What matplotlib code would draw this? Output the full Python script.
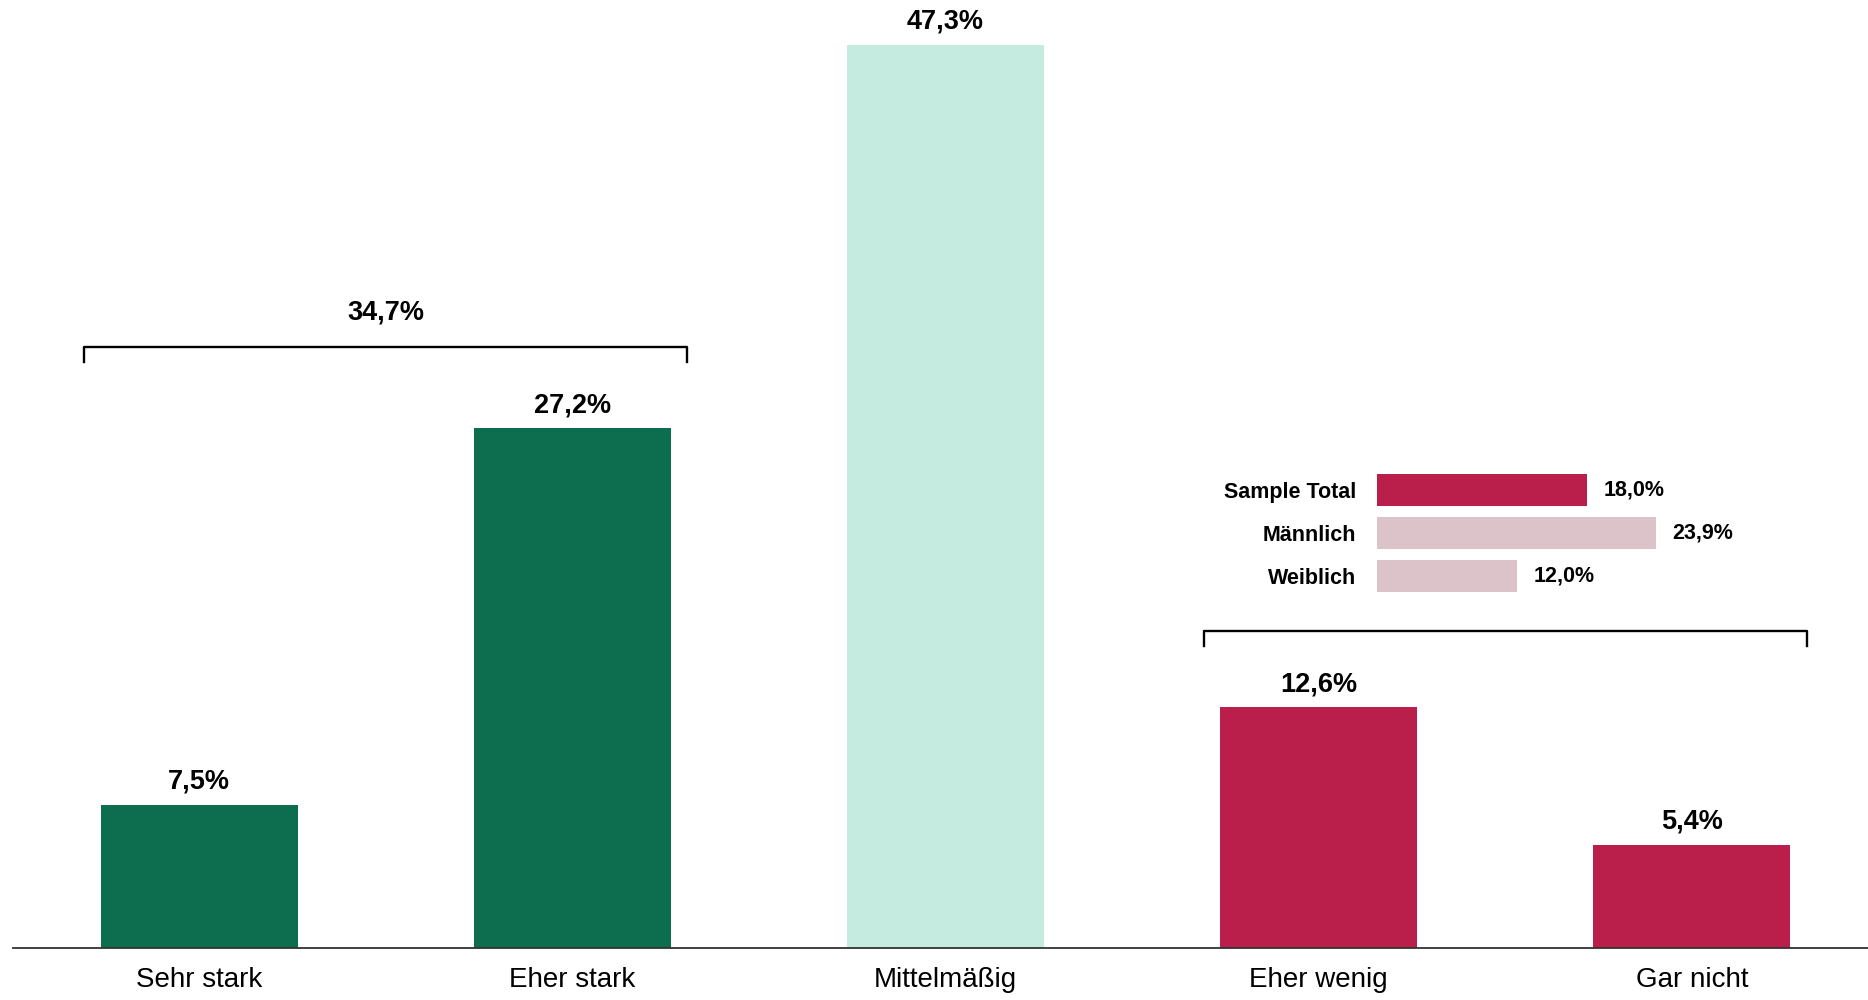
import numpy as np
import matplotlib.pyplot as plt

# Daten
kategorien = ['Sehr stark', 'Eher stark', 'Mittelmäßig', 'Eher wenig', 'Gar nicht']
werte = [7.5, 27.2, 47.3, 12.6, 5.4]
farben = ['#0D6E4F', '#0D6E4F', '#C5EADF', '#BA1E4A', '#BA1E4A']

# Gruppen für die Klammern (erste und letzte Kategorie)
gruppe_stark = [0, 1]
gruppe_wenig = [3, 4]

# Aufteilung "Eher wenig + Gar nicht"
gruppen_namen = ['Sample Total', 'Männlich', 'Weiblich']
gruppen_werte = [18.0, 23.9, 12.0]
gruppen_farben = ['#BA1E4A', '#DBC3C9', '#DBC3C9']

def fmt(v):
    return f'{v:.1f}%'.replace('.', ',')

plt.rcParams['font.family'] = ['Liberation Sans', 'DejaVu Sans']

fig = plt.figure(figsize=(18.68, 10), dpi=100)
ax = fig.add_axes([12.7 / 1868, 0.052, 1 - 12.7 / 1868, 0.948])

x = np.arange(len(kategorien))
balken = ax.bar(x, werte, width=0.528, color=farben)

# Werte über den Balken
for xi, v in zip(x, werte):
    ax.annotate(fmt(v), (xi, v), xytext=(0, 11.5), textcoords='offset points',
                ha='center', va='baseline', fontsize=19.5, fontweight='bold')

ax.set_xlim(-0.5, 4.472)
ax.set_ylim(0, 49.63)
ax.set_xticks(x)
ax.set_xticklabels(kategorien, fontsize=20)
ax.tick_params(axis='x', length=0, pad=13.5)
ax.set_yticks([])
for s in ['top', 'left', 'right']:
    ax.spines[s].set_visible(False)
ax.spines['bottom'].set_color('#333333')
ax.spines['bottom'].set_linewidth(1.3)


# Klammer über einer Gruppe von Balken
def klammer(idx, abstand, label=None):
    x0 = idx[0] - 0.308
    x1 = idx[-1] + 0.308
    summe = sum(werte[i] for i in idx)
    y = max(werte[i] for i in idx) + abstand
    ax.plot([x0, x0, x1, x1], [y - 0.8, y, y, y - 0.8], color='black',
            lw=1.7, solid_joinstyle='round')
    if label:
        ax.text((x0 + x1) / 2, y + 1.4, fmt(summe), ha='center', va='baseline',
                fontsize=19.5, fontweight='bold')


klammer(gruppe_stark, 4.28, label=True)
klammer(gruppe_wenig, 4.0)

# Kleines Balkendiagramm nach Geschlecht
ax2 = fig.add_axes([1377 / 1868, 0.4025, 350 / 1868, 0.129])
y2 = np.arange(len(gruppen_namen))
ax2.barh(y2, gruppen_werte, height=0.75, color=gruppen_farben)
for yi, v in zip(y2, gruppen_werte):
    ax2.annotate(fmt(v), (v, yi), xytext=(12, 0), textcoords='offset points',
                 ha='left', va='center', fontsize=15.5, fontweight='bold')
ax2.set_xlim(0, 30)
ax2.set_ylim(2.5, -0.5)
ax2.set_yticks(y2)
ax2.set_yticklabels(gruppen_namen, fontsize=15.5, fontweight='bold')
ax2.tick_params(axis='y', length=0, pad=15)
ax2.set_xticks([])
for s in ax2.spines.values():
    s.set_visible(False)

plt.savefig('out.png', dpi=100)
